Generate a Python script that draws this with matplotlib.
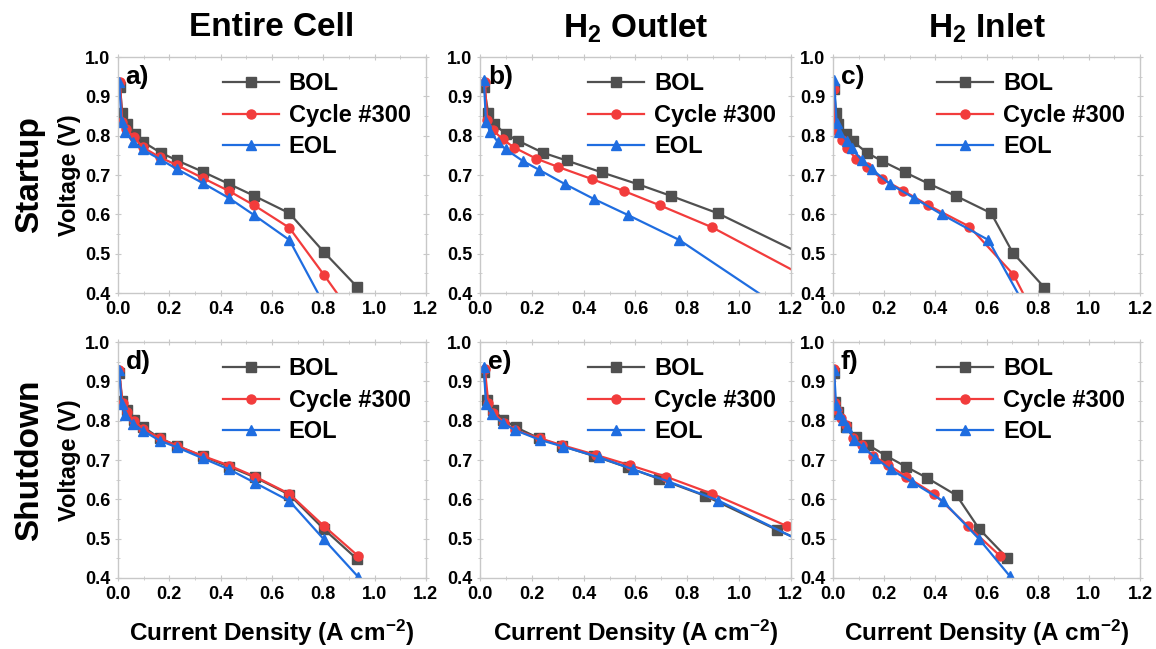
import numpy as np
import matplotlib
matplotlib.use('Agg')
import matplotlib.pyplot as plt
from matplotlib.ticker import MultipleLocator

plt.rcParams['font.family'] = ['Liberation Sans', 'DejaVu Sans']
plt.rcParams['font.weight'] = 'bold'
plt.rcParams['mathtext.fontset'] = 'custom'
plt.rcParams['mathtext.rm'] = 'Liberation Sans:bold'
plt.rcParams['mathtext.bf'] = 'Liberation Sans:bold'
plt.rcParams['mathtext.default'] = 'bf'

series_names = ['BOL', 'Cycle #300', 'EOL']
column_titles = ['Entire Cell', r'H$_2$ Outlet', r'H$_2$ Inlet']
row_titles = ['Startup', 'Shutdown']
panel_tags = ['a)', 'b)', 'c)', 'd)', 'e)', 'f)']

# startup - entire cell
a_bol_j = [0.008, 0.017, 0.034, 0.066, 0.096, 0.166, 0.231, 0.332, 0.434, 0.531, 0.668, 0.803, 0.933]
a_bol_v = [0.925, 0.857, 0.830, 0.804, 0.785, 0.757, 0.737, 0.708, 0.677, 0.647, 0.603, 0.504, 0.415]
a_c300_j = [0.008, 0.017, 0.031, 0.062, 0.096, 0.164, 0.231, 0.332, 0.434, 0.531, 0.668, 0.803, 0.930]
a_c300_v = [0.937, 0.835, 0.818, 0.797, 0.771, 0.745, 0.725, 0.692, 0.659, 0.623, 0.566, 0.446, 0.330]
a_eol_j = [0.005, 0.014, 0.027, 0.060, 0.096, 0.164, 0.231, 0.332, 0.434, 0.531, 0.668, 0.800]
a_eol_v = [0.937, 0.836, 0.810, 0.785, 0.765, 0.740, 0.715, 0.679, 0.641, 0.598, 0.535, 0.375]

# startup - H2 outlet
b_bol_j = [0.015, 0.032, 0.055, 0.100, 0.148, 0.242, 0.334, 0.469, 0.608, 0.737, 0.917, 1.270]
b_bol_v = [0.925, 0.857, 0.830, 0.804, 0.787, 0.757, 0.737, 0.707, 0.677, 0.647, 0.603, 0.490]
b_c300_j = [0.019, 0.028, 0.051, 0.087, 0.132, 0.216, 0.300, 0.431, 0.557, 0.694, 0.896, 1.250]
b_c300_v = [0.937, 0.840, 0.814, 0.791, 0.770, 0.742, 0.721, 0.690, 0.659, 0.623, 0.567, 0.443]
b_eol_j = [0.015, 0.023, 0.039, 0.068, 0.100, 0.165, 0.229, 0.328, 0.440, 0.572, 0.769, 1.150]
b_eol_v = [0.942, 0.836, 0.810, 0.785, 0.765, 0.736, 0.713, 0.677, 0.639, 0.598, 0.535, 0.367]

# startup - H2 inlet
c_bol_j = [0.004, 0.012, 0.021, 0.050, 0.077, 0.132, 0.190, 0.281, 0.377, 0.480, 0.618, 0.702, 0.826]
c_bol_v = [0.920, 0.857, 0.830, 0.804, 0.786, 0.757, 0.736, 0.707, 0.677, 0.647, 0.603, 0.503, 0.414]
c_c300_j = [0.003, 0.008, 0.034, 0.053, 0.090, 0.132, 0.190, 0.275, 0.370, 0.533, 0.705, 0.790]
c_c300_v = [0.920, 0.814, 0.789, 0.768, 0.742, 0.721, 0.691, 0.660, 0.624, 0.569, 0.447, 0.340]
c_eol_j = [0.004, 0.014, 0.025, 0.053, 0.073, 0.112, 0.151, 0.223, 0.318, 0.425, 0.607, 0.790]
c_eol_v = [0.942, 0.833, 0.810, 0.787, 0.768, 0.738, 0.715, 0.677, 0.641, 0.600, 0.535, 0.320]

# shutdown - entire cell
d_bol_j = [0.005, 0.017, 0.034, 0.064, 0.096, 0.164, 0.231, 0.332, 0.434, 0.534, 0.668, 0.803, 0.932]
d_bol_v = [0.920, 0.850, 0.827, 0.803, 0.785, 0.755, 0.736, 0.709, 0.683, 0.656, 0.612, 0.524, 0.448]
d_c300_j = [0.005, 0.018, 0.034, 0.064, 0.096, 0.164, 0.231, 0.332, 0.434, 0.534, 0.668, 0.803, 0.936]
d_c300_v = [0.930, 0.844, 0.822, 0.800, 0.780, 0.755, 0.736, 0.710, 0.686, 0.658, 0.614, 0.532, 0.456]
d_eol_j = [0.005, 0.014, 0.027, 0.060, 0.096, 0.164, 0.231, 0.332, 0.434, 0.534, 0.668, 0.803, 0.936]
d_eol_v = [0.930, 0.842, 0.815, 0.792, 0.775, 0.749, 0.732, 0.704, 0.676, 0.642, 0.596, 0.498, 0.403]

# shutdown - H2 outlet
e_bol_j = [0.015, 0.026, 0.051, 0.090, 0.139, 0.229, 0.315, 0.441, 0.570, 0.692, 0.868, 1.147, 1.250]
e_bol_v = [0.925, 0.853, 0.827, 0.803, 0.783, 0.755, 0.736, 0.710, 0.681, 0.652, 0.609, 0.522, 0.492]
e_c300_j = [0.019, 0.032, 0.051, 0.094, 0.135, 0.232, 0.315, 0.447, 0.578, 0.716, 0.897, 1.185]
e_c300_v = [0.931, 0.846, 0.820, 0.795, 0.776, 0.755, 0.738, 0.713, 0.687, 0.658, 0.614, 0.532]
e_eol_j = [0.015, 0.023, 0.045, 0.090, 0.135, 0.232, 0.322, 0.460, 0.592, 0.729, 0.920, 1.250]
e_eol_v = [0.937, 0.842, 0.817, 0.793, 0.776, 0.751, 0.734, 0.707, 0.676, 0.645, 0.597, 0.490]

# shutdown - H2 inlet
f_bol_j = [0.004, 0.008, 0.021, 0.051, 0.090, 0.138, 0.207, 0.285, 0.369, 0.483, 0.571, 0.679]
f_bol_v = [0.920, 0.848, 0.822, 0.785, 0.758, 0.738, 0.711, 0.683, 0.654, 0.610, 0.525, 0.452]
f_c300_j = [0.004, 0.008, 0.014, 0.030, 0.051, 0.079, 0.112, 0.155, 0.216, 0.285, 0.396, 0.529, 0.653]
f_c300_v = [0.931, 0.844, 0.827, 0.808, 0.789, 0.755, 0.738, 0.711, 0.688, 0.658, 0.613, 0.531, 0.456]
f_eol_j = [0.004, 0.012, 0.025, 0.040, 0.053, 0.083, 0.116, 0.164, 0.225, 0.307, 0.429, 0.571, 0.692]
f_eol_v = [0.930, 0.840, 0.817, 0.802, 0.785, 0.751, 0.734, 0.706, 0.676, 0.645, 0.596, 0.499, 0.404]

panels = [
    [(a_bol_j, a_bol_v), (a_c300_j, a_c300_v), (a_eol_j, a_eol_v)],
    [(b_bol_j, b_bol_v), (b_c300_j, b_c300_v), (b_eol_j, b_eol_v)],
    [(c_bol_j, c_bol_v), (c_c300_j, c_c300_v), (c_eol_j, c_eol_v)],
    [(d_bol_j, d_bol_v), (d_c300_j, d_c300_v), (d_eol_j, d_eol_v)],
    [(e_bol_j, e_bol_v), (e_c300_j, e_c300_v), (e_eol_j, e_eol_v)],
    [(f_bol_j, f_bol_v), (f_c300_j, f_c300_v), (f_eol_j, f_eol_v)],
]

colors = ['#505050', '#f23c3c', '#1f6de0']
markers = ['s', 'o', '^']

fig = plt.figure(figsize=(11.56, 6.49), dpi=100)

lefts = [0.102, 0.4152, 0.7206]
widths = [0.2664, 0.269, 0.2656]
bottoms = [0.5485, 0.1094]
height = 0.3636

for i, data in enumerate(panels):
    row, col = divmod(i, 3)
    ax = fig.add_axes([lefts[col], bottoms[row], widths[col], height])
    for (j, v), name, c, m in zip(data, series_names, colors, markers):
        ax.plot(j, v, color=c, marker=m, markersize=6.5, linewidth=1.6, label=name)
    ax.set_xlim(0, 1.2)
    ax.set_ylim(0.4, 1.0)
    ax.xaxis.set_major_locator(MultipleLocator(0.2))
    ax.xaxis.set_minor_locator(MultipleLocator(0.1))
    ax.yaxis.set_major_locator(MultipleLocator(0.1))
    ax.yaxis.set_minor_locator(MultipleLocator(0.05))
    ax.xaxis.set_major_formatter(plt.FormatStrFormatter('%.1f'))
    ax.yaxis.set_major_formatter(plt.FormatStrFormatter('%.1f'))
    ax.tick_params(which='both', direction='inout', top=True, right=True,
                   color='#c8c8c8', labelsize=13, pad=3)
    ax.tick_params(which='major', length=5)
    ax.tick_params(which='minor', length=3)
    for sp in ax.spines.values():
        sp.set_color('#c8c8c8')
        sp.set_linewidth(1.0)
    for lbl in ax.get_xticklabels() + ax.get_yticklabels():
        lbl.set_fontweight('bold')
    ax.text(0.025, 0.965, panel_tags[i], transform=ax.transAxes, fontsize=19,
            fontweight='bold', va='top', ha='left')
    ax.legend(loc='upper right', bbox_to_anchor=(1.02, 1.025), frameon=False,
              handlelength=2.4, handletextpad=0.4, labelspacing=0.36,
              prop={'weight': 'bold', 'size': 17})
    if col == 0:
        ax.set_ylabel('Voltage (V)', fontsize=17, fontweight='bold', labelpad=3)
    if row == 1:
        ax.set_xlabel(r'Current Density (A cm$^{-2}$)', fontsize=17.5,
                      fontweight='bold', labelpad=11)
    if row == 0:
        fig.text(lefts[col] + widths[col] / 2, 1 - 28 / 649, column_titles[col],
                 fontsize=24, fontweight='bold', ha='center', va='center')

fig.text(0.026, bottoms[0] + height / 2, row_titles[0], rotation=90, fontsize=24,
         fontweight='bold', ha='center', va='center')
fig.text(0.026, bottoms[1] + height / 2, row_titles[1], rotation=90, fontsize=24,
         fontweight='bold', ha='center', va='center')

fig.savefig('out.png', dpi=100)
